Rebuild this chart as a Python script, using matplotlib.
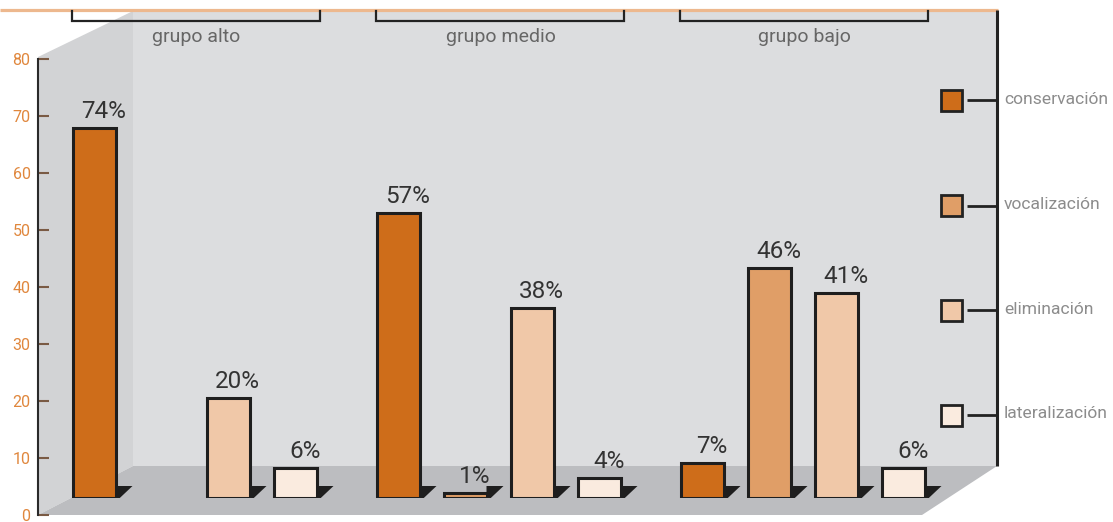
import matplotlib
matplotlib.use("Agg")
import matplotlib.pyplot as plt
from matplotlib.patches import Polygon, Rectangle
from matplotlib.transforms import blended_transform_factory
import numpy as np

# ---------------- data ----------------
groups = ['grupo alto', 'grupo medio', 'grupo bajo']
series = ['conservación', 'vocalización', 'eliminación', 'lateralización']
conservacion = [74, 57, 7]
vocalizacion = [0, 1, 46]
eliminacion = [20, 38, 41]
lateralizacion = [6, 4, 6]
y_ticks = [0, 10, 20, 30, 40, 50, 60, 70, 80]
colors = ['#CE6D1A', '#E09E67', '#F0C8A8', '#FAEBDF']

values = [conservacion, vocalizacion, eliminacion, lateralizacion]

plt.rcParams['font.family'] = ['Roboto', 'DejaVu Sans']

W, H = 1113, 522
fig = plt.figure(figsize=(W / 100, H / 100), dpi=100)

# ---------- background (3D frame) in pixel coordinates ----------
bg = fig.add_axes([0, 0, 1, 1], zorder=0)
bg.set_xlim(0, W)
bg.set_ylim(H, 0)
bg.axis('off')

bg.add_patch(Rectangle((133, 11), 997 - 133, 466 - 11, facecolor='#DCDDDF', edgecolor='none'))
bg.add_patch(Polygon([(38, 57), (133, 11), (133, 466), (38, 515)], closed=True,
                     facecolor='#D2D3D5', edgecolor='none'))
bg.add_patch(Polygon([(38, 515), (133, 466), (997, 466), (922, 515)], closed=True,
                     facecolor='#BCBDC0', edgecolor='none'))
bg.plot([0, 998], [9.5, 9.5], color='#EDB88E', lw=2.3, solid_capstyle='butt')
bg.plot([996.5, 996.5], [10, 466], color='#222222', lw=2.2, solid_capstyle='butt')

# legend
leg_y = [100, 205.5, 310, 415]
for name, col, ly in zip(series, colors, leg_y):
    bg.add_patch(Rectangle((940.5, ly - 10.5), 21, 21, facecolor=col, edgecolor='#222222', lw=2.0))
    bg.plot([967, 996], [ly, ly], color='#222222', lw=2.0, solid_capstyle='butt')
    bg.text(1004, ly - 1, name, color='#8C8C8C', fontsize=12.6, ha='left', va='center')

# ---------- y axis (0-80) ----------
y0_px, y80_px = 515, 59.5
yax = fig.add_axes([37.5 / W, (H - y0_px) / H, 0.0001, (y0_px - y80_px) / H], zorder=2)
yax.patch.set_alpha(0)
yax.set_ylim(0, 80)
yax.set_xticks([])
yax.set_yticks(y_ticks)
yax.set_yticklabels([str(t) for t in y_ticks])
for s in ['top', 'right', 'bottom']:
    yax.spines[s].set_visible(False)
yax.spines['left'].set_color('#2A2A2A')
yax.spines['left'].set_linewidth(1.5)
yax.tick_params(axis='y', direction='in', length=8, width=1.5, color='#7A5A44',
                labelcolor='#E0873D', labelsize=11.5, pad=5)
for lab in yax.get_yticklabels():
    lab.set_fontfamily(['Roboto', 'DejaVu Sans'])

# ---------- bars ----------
base_px = 498
px_per_pct = 5.0
grp_px0, grp_step = 194.5, 304.0
top_pct = 80
ax = fig.add_axes([0, (H - base_px) / H, 1, top_pct * px_per_pct / H], zorder=3)
ax.patch.set_alpha(0)
ax.set_xlim(-grp_px0 / grp_step, (W - grp_px0) / grp_step)
ax.set_ylim(0, top_pct)
ax.axis('off')

px_x = 1.0 / grp_step        # one pixel in x data units
px_y = 1.0 / px_per_pct      # one pixel in y data units
step = 67 * px_x
width = 43 * px_x
gx = np.arange(len(groups))

for i, (vals, col) in enumerate(zip(values, colors)):
    xs = gx + (i - 1.5) * step
    for x, v in zip(xs, vals):
        if v <= 0:
            continue
        R = x + width / 2
        sh = Polygon([(R, -1.2 * px_y), (R, 12 * px_y), (R + 17 * px_x, 12 * px_y),
                      (R + 3 * px_x, -1.2 * px_y)], closed=True,
                     facecolor='#1E1E1E', edgecolor='none', zorder=1)
        ax.add_patch(sh)
        ax.bar(x, v, width=width, color=col, edgecolor='#1E1E1E', linewidth=2.2, zorder=2)
        ax.annotate(f"{v}%", (x, v), xytext=(7, 7.5), textcoords='offset points',
                    ha='center', va='baseline', fontsize=17.5, color='#333333')

# group brackets and labels
tr = blended_transform_factory(ax.transData, bg.transData)
for g, name in zip(gx, groups):
    l = g - 123 * px_x
    r = g + 125 * px_x
    ax.plot([l, l, r, r], [11, 21, 21, 11], color='#222222', lw=1.6, transform=tr,
            clip_on=False, solid_joinstyle='miter')
    ax.text(g + 2 * px_x, 41.5, name, transform=tr, ha='center', va='baseline',
            fontsize=14, color='#666666')

fig.savefig('out.png', dpi=100)
